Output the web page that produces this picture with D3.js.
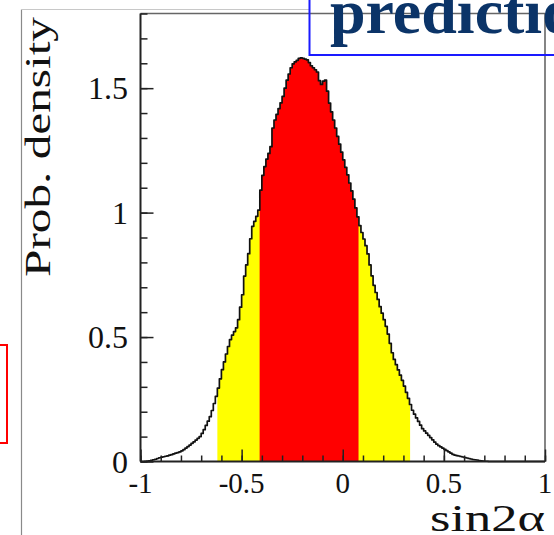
<!DOCTYPE html>
<html>
<head>
<meta charset="utf-8">
<script src="https://cdn.jsdelivr.net/npm/d3@7"></script>
<style>
  html, body { margin: 0; padding: 0; background: #fff; }
  svg { display: block; }
</style>
</head>
<body>
<svg id="chart" width="554" height="535"></svg>
<script>
// ---- data ----
const binStart = -1;
const binWidth = 0.01;
const density = [
  0.000, 0.000, 0.001, 0.002, 0.003, 0.005, 0.007, 0.009, 0.012, 0.015,
  0.017, 0.019, 0.021, 0.023, 0.026, 0.028, 0.031, 0.034, 0.036, 0.039,
  0.043, 0.048, 0.054, 0.060, 0.066, 0.073, 0.079, 0.086, 0.093, 0.100,
  0.113, 0.128, 0.145, 0.162, 0.180, 0.205, 0.233, 0.262, 0.295, 0.332,
  0.369, 0.400, 0.432, 0.462, 0.490, 0.508, 0.522, 0.537, 0.570, 0.620,
  0.670, 0.745, 0.790, 0.835, 0.895, 0.945, 0.965, 0.985, 1.010, 1.090,
  1.150, 1.185, 1.215, 1.238, 1.265, 1.340, 1.372, 1.395, 1.418, 1.441,
  1.467, 1.500, 1.532, 1.557, 1.582, 1.598, 1.606, 1.612, 1.620, 1.622,
  1.620, 1.617, 1.614, 1.603, 1.590, 1.582, 1.574, 1.565, 1.530, 1.515,
  1.528, 1.532, 1.488, 1.440, 1.405, 1.372, 1.340, 1.306, 1.275, 1.243,
  1.212, 1.182, 1.152, 1.119, 1.087, 1.054, 1.019, 0.983, 0.948, 0.920,
  0.894, 0.867, 0.834, 0.790, 0.746, 0.708, 0.679, 0.651, 0.622, 0.596,
  0.570, 0.543, 0.512, 0.475, 0.437, 0.410, 0.389, 0.368, 0.347, 0.326,
  0.303, 0.278, 0.254, 0.229, 0.206, 0.190, 0.175, 0.161, 0.146, 0.132,
  0.123, 0.114, 0.105, 0.096, 0.087, 0.078, 0.070, 0.064, 0.059, 0.054,
  0.049, 0.044, 0.039, 0.034, 0.029, 0.026, 0.024, 0.022, 0.020, 0.018,
  0.016, 0.014, 0.012, 0.010, 0.008, 0.007, 0.006, 0.004, 0.003, 0.002,
  0.001, 0.001, 0.000, 0.000, 0.000, 0.000, 0.000, 0.000, 0.000, 0.000,
  0.000, 0.000, 0.000, 0.000, 0.000, 0.000, 0.000, 0.000, 0.000, 0.000,
  0.000, 0.000, 0.000, 0.000, 0.000, 0.000, 0.000, 0.000, 0.000, 0.000
];
const band95 = [-0.62, 0.333];
const band68 = [-0.411, 0.078];
const xMajorTicks = [-1, -0.5, 0, 0.5, 1];
const xTickLabels = ["-1", "-0.5", "0", "0.5", "1"];
const yMajorTicks = [0, 0.5, 1, 1.5];
const yTickLabels = ["0", "0.5", "1", "1.5"];
const xLabel = "sin2\u03b1";
const yLabel = "Prob. density";
const titleText = "prediction";

// ---- scales ----
const svg = d3.select("#chart");
const x = d3.scaleLinear().domain([-1, 1]).range([140.5, 545]);
const y = d3.scaleLinear().domain([0, 1.8]).range([461.5, 13.5]);
const serif = "'Liberation Serif', 'Times New Roman', serif";

// outer slide decorations
svg.append("line").attr("x1", 21.5).attr("x2", 21.5).attr("y1", 9.5).attr("y2", 535)
  .attr("stroke", "#8a8a8a").attr("stroke-width", 1.2);
svg.append("line").attr("x1", 21).attr("x2", 310).attr("y1", 9.5).attr("y2", 9.5)
  .attr("stroke", "#c8c8c8").attr("stroke-width", 1.2);
svg.append("rect").attr("x", -10).attr("y", 345).attr("width", 17).attr("height", 98)
  .attr("fill", "none").attr("stroke", "#ff0000").attr("stroke-width", 2);

// histogram points (step shape)
const pts = [];
density.forEach((v, i) => {
  const x0 = binStart + i * binWidth;
  pts.push([x0, v]);
  pts.push([x0 + binWidth, v]);
});

const area = d3.area().x(d => x(d[0])).y0(y(0)).y1(d => y(d[1]));
const line = d3.line().x(d => x(d[0])).y(d => y(d[1]));

const defs = svg.append("defs");
defs.append("clipPath").attr("id", "c95").append("rect")
  .attr("x", x(band95[0])).attr("width", x(band95[1]) - x(band95[0]))
  .attr("y", 0).attr("height", 535);
defs.append("clipPath").attr("id", "c68").append("rect")
  .attr("x", x(band68[0])).attr("width", x(band68[1]) - x(band68[0]))
  .attr("y", 0).attr("height", 535);

svg.append("path").datum(pts).attr("d", area).attr("fill", "#ffff00").attr("clip-path", "url(#c95)");
svg.append("path").datum(pts).attr("d", area).attr("fill", "#ff0000").attr("clip-path", "url(#c68)");
svg.append("path").datum(pts).attr("d", line).attr("fill", "none")
  .attr("stroke", "#111").attr("stroke-width", 1.7).attr("stroke-linejoin", "round");

// frame
svg.append("line").attr("x1", x(-1)).attr("x2", x(1)).attr("y1", y(1.8)).attr("y2", y(1.8))
  .attr("stroke", "#666").attr("stroke-width", 1.6);
svg.append("line").attr("x1", x(1)).attr("x2", x(1)).attr("y1", y(1.8)).attr("y2", y(0))
  .attr("stroke", "#666").attr("stroke-width", 1.6);

// x axis
const xMinor = d3.range(-10, 11).map(k => k / 10);
const gx = svg.append("g").attr("transform", `translate(0,${y(0)})`);
gx.call(d3.axisBottom(x).tickValues(xMinor).tickSize(-6).tickFormat(""));
gx.selectAll(".tick line").attr("stroke", "#222").attr("stroke-width", 1.5);
const gxM = svg.append("g").attr("transform", `translate(0,${y(0)})`);
gxM.call(d3.axisBottom(x).tickValues(xMajorTicks).tickSize(-12).tickFormat(""));
gxM.selectAll(".tick line").attr("stroke", "#222").attr("stroke-width", 1.5);
svg.selectAll(".domain").remove();
svg.append("line").attr("x1", x(-1)).attr("x2", x(1)).attr("y1", y(0)).attr("y2", y(0))
  .attr("stroke", "#222").attr("stroke-width", 2);
svg.selectAll(".xlab").data(xMajorTicks).join("text")
  .attr("x", d => x(d)).attr("y", 493)
  .attr("text-anchor", "middle")
  .attr("font-family", serif).attr("font-size", 29).attr("fill", "#111")
  .text((d, i) => xTickLabels[i]);

// y axis
const yMinor = d3.range(0, 19).map(k => k / 10);
const gy = svg.append("g").attr("transform", `translate(${x(-1)},0)`);
gy.call(d3.axisLeft(y).tickValues(yMinor).tickSize(-7).tickFormat(""));
gy.selectAll(".tick line").attr("stroke", "#222").attr("stroke-width", 1.5);
const gyM = svg.append("g").attr("transform", `translate(${x(-1)},0)`);
gyM.call(d3.axisLeft(y).tickValues(yMajorTicks).tickSize(-13).tickFormat(""));
gyM.selectAll(".tick line").attr("stroke", "#222").attr("stroke-width", 1.5);
svg.selectAll(".domain").remove();
svg.append("line").attr("x1", x(-1)).attr("x2", x(-1)).attr("y1", y(1.8)).attr("y2", y(0))
  .attr("stroke", "#222").attr("stroke-width", 2);
svg.selectAll(".ylab").data(yMajorTicks).join("text")
  .attr("x", 128).attr("y", d => y(d) + 11)
  .attr("text-anchor", "end")
  .attr("font-family", serif).attr("font-size", 32).attr("fill", "#111")
  .text((d, i) => yTickLabels[i]);

// axis titles
svg.append("text")
  .attr("transform", "translate(50,147) rotate(-90)")
  .attr("text-anchor", "middle")
  .attr("font-family", serif).attr("font-size", 35).attr("fill", "#111")
  .attr("textLength", 260).attr("lengthAdjust", "spacingAndGlyphs")
  .text(yLabel);
svg.append("text")
  .attr("x", 545).attr("y", 531)
  .attr("text-anchor", "end")
  .attr("font-family", serif).attr("font-size", 37).attr("fill", "#111")
  .attr("textLength", 115).attr("lengthAdjust", "spacingAndGlyphs")
  .text(xLabel);

// title box
svg.append("rect").attr("x", 309.5).attr("y", -10).attr("width", 300).attr("height", 65)
  .attr("fill", "none").attr("stroke", "#1a1aff").attr("stroke-width", 2);
svg.append("text")
  .attr("x", 330).attr("y", 33)
  .attr("font-family", serif).attr("font-weight", "bold").attr("font-size", 64)
  .attr("fill", "#0b3468")
  .text(titleText);
</script>
</body>
</html>
